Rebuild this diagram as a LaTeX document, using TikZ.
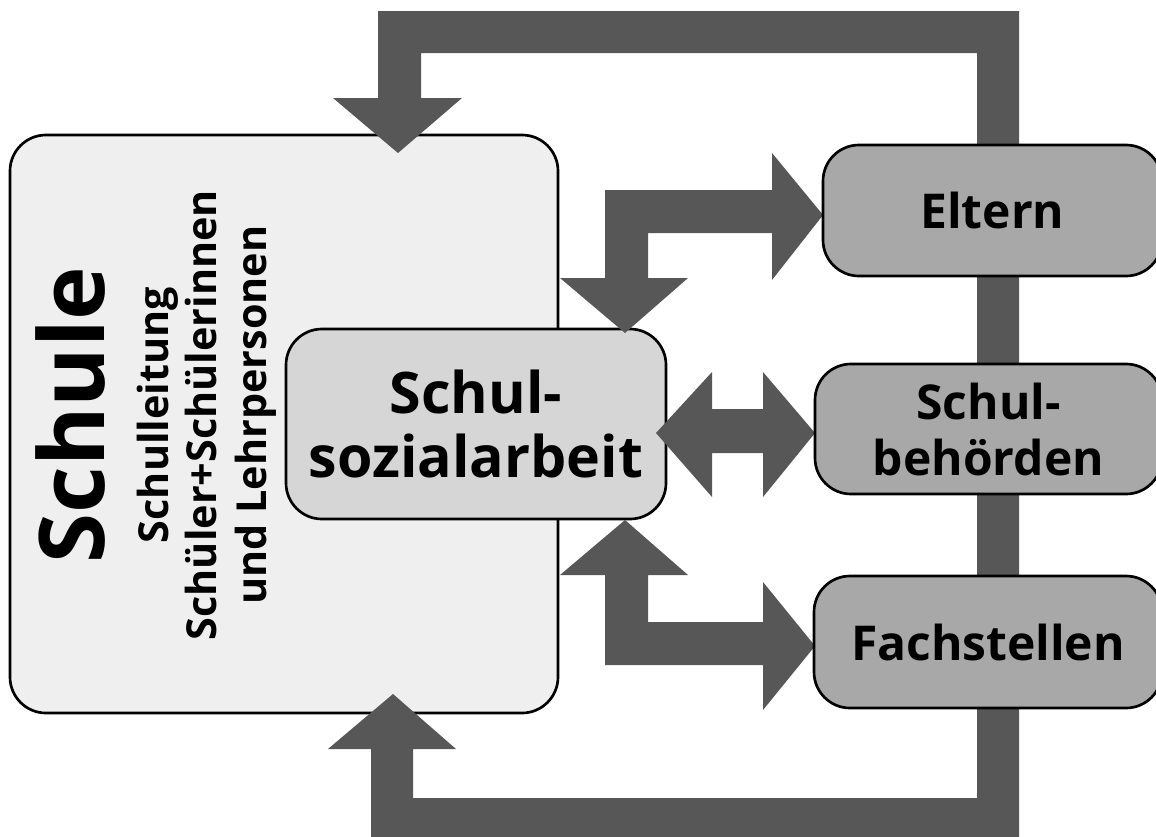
\documentclass[tikz,border=0pt]{standalone}
\usepackage{fontspec}
\setmainfont{Open Sans}
\definecolor{schulefill}{HTML}{EFEFEF}
\definecolor{ssafill}{HTML}{D6D6D6}
\definecolor{partnerfill}{HTML}{A8A8A8}
\definecolor{arrowgray}{HTML}{575757}
\begin{document}
\begin{tikzpicture}[x=0.75pt,y=-0.75pt,
  box/.style={draw=black, line width=2pt, rounded corners=27pt, inner sep=0pt, outer sep=0pt},
  schulebox/.style={box, fill=schulefill},
  ssabox/.style={box, fill=ssafill, align=center, font=\bfseries\fontsize{43}{48}\selectfont},
  partnerbox/.style={box, fill=partnerfill, align=center, font=\bfseries\fontsize{36}{42}\selectfont},
  vtext/.style={rotate=90, anchor=base, inner sep=0pt},
  blockarrow/.style={fill=arrowgray, draw=none}]
\useasboundingbox (0,0) rectangle (1156,836);
\clip (0,0) rectangle (1156,836);
% Schule box
\node[schulebox, minimum width=411pt, minimum height=433.5pt] (schule) at (284,424) {};
\node[vtext, font=\bfseries\fontsize{68}{72}\selectfont] (schuletitle) at (104,415) {Schule};
\node[vtext, font=\bfseries\fontsize{31}{36}\selectfont] (l1) at (168,415) {Schulleitung};
\node[vtext, font=\bfseries\fontsize{31}{36}\selectfont] (l2) at (216,415) {Schüler+Schülerinnen};
\node[vtext, font=\bfseries\fontsize{31}{36}\selectfont] (l3) at (266,415) {und Lehrpersonen};
% Schulsozialarbeit
\node[ssabox, minimum width=285pt, minimum height=142.5pt] (ssa) at (476,424) {Schul-\\sozialarbeit};
% big loop arrow
\fill[blockarrow] (398,153) -- (462,98) -- (421,98) -- (421,53) -- (977,53) -- (977,798)
  -- (413,798) -- (413,749) -- (456,749) -- (393,694) -- (328,749) -- (371,749)
  -- (371,840) -- (1019,840) -- (1019,11) -- (378,11) -- (378,98) -- (333,98) -- cycle;
% Eltern arrow
\fill[blockarrow] (823,215) -- (772,153) -- (772,190) -- (605,190) -- (605,278) -- (560,278)
  -- (625,333) -- (688,278) -- (648,278) -- (648,233) -- (772,233) -- (772,280) -- cycle;
% Behoerden double arrow
\fill[blockarrow] (656,433) -- (712,372) -- (712,409) -- (763,409) -- (763,372) -- (815,433)
  -- (763,497) -- (763,453) -- (712,453) -- (712,497) -- cycle;
% Fachstellen arrow
\fill[blockarrow] (625,520) -- (688,575) -- (648,575) -- (648,622) -- (763,622) -- (763,582)
  -- (815,646) -- (763,710) -- (763,665) -- (605,665) -- (605,575) -- (560,575) -- cycle;
% partner boxes
\node[partnerbox, minimum width=254.25pt, minimum height=98.25pt] (eltern) at (992.5,210.5) {Eltern};
\node[partnerbox, minimum width=260.25pt, minimum height=97.5pt] (behoerden) at (988.5,429) {Schul-\\behörden};
\node[partnerbox, minimum width=261pt, minimum height=99pt] (fach) at (988,642) {Fachstellen};
\end{tikzpicture}
\end{document}
